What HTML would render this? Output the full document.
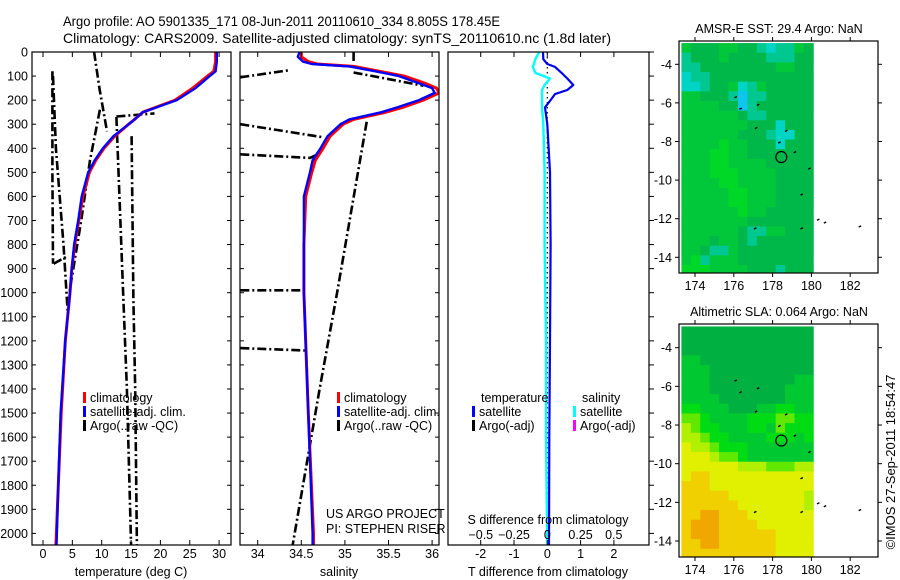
<!DOCTYPE html>
<html><head><meta charset="utf-8"><title>Argo profile</title>
<style>
html,body{margin:0;padding:0;background:#fff;}
svg{display:block;font-family:"Liberation Sans",sans-serif;}
text{fill:#000;}
</style></head>
<body>
<svg id="fig" width="900" height="580" viewBox="0 0 900 580" xmlns="http://www.w3.org/2000/svg">
<text x="63" y="26" font-size="14" textLength="437" lengthAdjust="spacingAndGlyphs">Argo profile: AO 5901335_171 08-Jun-2011 20110610_334 8.805S 178.45E</text>
<text x="63" y="43" font-size="14" textLength="548" lengthAdjust="spacingAndGlyphs">Climatology: CARS2009. Satellite-adjusted climatology: synTS_20110610.nc (1.8d later)</text>
<g id="g1"></g>
<g id="g2"></g>
<g id="g3"></g>
<g id="m1"></g>
<g id="m2"></g>
<text transform="translate(895,462) rotate(-90)" font-size="13" text-anchor="middle">©IMOS 27-Sep-2011 18:54:47</text>
</svg>
<script>
// ---- profile data ----
const depthTicks = [0,100,200,300,400,500,600,700,800,900,1000,1100,1200,1300,1400,1500,1600,1700,1800,1900,2000];
const tempTicks = [0,5,10,15,20,25,30];
const salTicks = [34,34.5,35,35.5,36];
const tdiffTicks = [-2,-1,0,1,2];
const sdiffTicks = [-0.5,-0.25,0,0.25,0.5];

const climDepth = [0,40,80,100,150,200,250,280,300,350,400,450,500,600,700,800,900,1000,1200,1500,1800,2050];
const tempSat   = [29.6,29.6,29.4,28.4,26.0,22.8,17.0,15.6,14.6,12.0,10.2,8.8,7.7,6.6,6.0,5.3,4.9,4.6,3.8,3.0,2.6,2.3];
const tempClim  = [29.4,29.4,29.1,28.0,25.5,22.5,17.0,15.6,14.6,12.2,10.4,9.0,7.9,6.8,6.1,5.4,4.9,4.6,3.8,3.1,2.6,2.2];
const salDepth  = [0,20,40,50,60,80,100,130,150,170,200,230,250,280,300,350,400,450,500,600,800,1000,1500,2000,2050];
const salSat    = [34.48,34.46,34.52,34.62,35.05,35.35,35.62,35.85,36.0,36.03,35.85,35.6,35.42,35.05,34.95,34.8,34.72,34.63,34.6,34.53,34.53,34.53,34.58,34.63,34.63];
const salClim   = [34.50,34.50,34.58,34.68,35.10,35.40,35.68,35.92,36.05,36.08,35.90,35.66,35.47,35.10,34.98,34.83,34.75,34.66,34.62,34.55,34.53,34.53,34.58,34.64,34.64];

// Argo (raw, -QC) segments: [values..], [depths..]
const argoT = [
  [[1.6,1.6,1.7],[80,500,880]],
  [[1.7,2.2,3.5,4.0,4.2],[100,400,800,1000,1080]],
  [[8.7,9.6,10.9],[0,150,330]],
  [[9.7,8.0,6.5,4.5],[240,450,700,1000]],
  [[12.5,13.7,14.3,15.0],[270,1030,1400,2050]],
  [[15.1,15.4,15.7,16.0],[350,1030,1400,2050]],
  [[12.5,19.0],[268,255]],
  [[1.8,4.0],[880,850]]
];
const argoS = [
  [[33.8,34.37],[105,75]],
  [[35.1,35.1],[0,40]],
  [[35.1,35.9],[85,140]],
  [[33.8,34.76],[300,355]],
  [[33.8,34.6,34.72],[425,440,420]],
  [[35.25,34.91,34.71,34.4],[290,1000,1400,2050]],
  [[33.8,34.5],[990,990]],
  [[33.8,34.55],[1230,1240]]
];
const diffDepth = [0,30,50,62,87,110,137,158,175,200,230,300,500,800,1200,1600,2050];
const tDiff     = [-0.13,-0.12,0.0,0.23,0.43,0.6,0.78,0.6,0.23,0.1,-0.07,0.0,0.08,0.1,0.08,0.06,0.05];
const sDiff     = [-0.06,-0.09,-0.10,-0.11,-0.09,0.02,-0.02,-0.04,-0.04,-0.04,-0.04,-0.03,-0.02,-0.02,-0.01,-0.01,0.0];

// ---- map data (0.5 deg rows from -2.9 southward, cols from 173.3 eastward) ----
const sstRows = ["10001100343310","30001000033300","33000000001100","43300000000000","44300143100000","11000353300000","11110053000000","11111103300000","11111110004000","11111100034400","11112110004000","11122110000000","11122111100000","11122211110000","11112211110000","11111221110000","11111221110000","11111121100000","11111110000000","11111103311000","11101103000000","11033100000000","12311100000000","22211110003000"];
const slaRows = ["00000000000000","00000000000000","00000000000000","11000000000000","11100000000000","11100000000011","11100000000111","11110000000111","22111000112211","33211112223322","43221112213222","44322111122212","54432221111111","55543321111111","55555544433344","56655555555555","66655555555555","66666555555554","66666655555554","66776665555555","67776666555555","67776666665555","66776666665555","66666666665555"];
const sstColors = ["#00b84a","#00c83a","#00d828","#00c890","#00d4c4","#10c4f0"];
const slaColors = ["#00b040","#00c830","#00dc14","#60e800","#b0f000","#e0f000","#f0d000","#f0a800"];
const coastLon = [176.1,176.35,177.25,177.15,178.35,178.7,179.15,179.9,179.5,180.35,180.7,182.5,177.1,179.5];
const coastLat = [-5.7,-6.3,-6.1,-7.3,-8.05,-7.45,-8.55,-9.4,-10.75,-12.05,-12.2,-12.4,-12.5,-12.5];
const floatLon = [178.45];
const floatLat = [-8.805];

// ---- helpers ----
const NS = "http://www.w3.org/2000/svg";
function mk(parent, tag, attrs, txt){
  const e = document.createElementNS(NS, tag);
  for (const k in attrs) e.setAttribute(k, attrs[k]);
  if (txt !== undefined) e.textContent = txt;
  parent.appendChild(e);
  return e;
}
const dy = d => 52 + d * 0.2407;
const tx = t => 43 + t * 5.87;
const sx = s => 257.7 + (s - 34) * 87.2;
const dtx = v => 547.3 + v * 33.3;
const dsx = v => 547.3 + v * 133;
const TOP = 52, BOT = 545;

function frame(g, x0, x1, name){
  const r = mk(g, 'rect', {x:x0, y:TOP, width:x1-x0, height:BOT-TOP, fill:'none', stroke:'#000', 'stroke-width':1.2});
  
  
}
function depthTicksDraw(g, x0, x1, labels, outsideRight){
  depthTicks.forEach(d => {
    const y = dy(d);
    if (outsideRight) { mk(g,'line',{x1:x1,y1:y,x2:x1+5,y2:y,stroke:'#000'}); return; }
    mk(g,'line',{x1:x0,y1:y,x2:x0+4,y2:y,stroke:'#000'});
    mk(g,'line',{x1:x1,y1:y,x2:x1-4,y2:y,stroke:'#000'});
    if (labels) {
      const t = mk(g,'text',{x:28,y:y+4.5,'font-size':12.5,'text-anchor':'end'}, String(d));
      
      
    }
  });
}
function xTicks(g, ticks, fx, y, fmt){
  ticks.forEach(v => {
    const x = fx(v);
    mk(g,'line',{x1:x,y1:TOP,x2:x,y2:TOP+5,stroke:'#000'});
    mk(g,'line',{x1:x,y1:BOT,x2:x,y2:BOT-5,stroke:'#000'});
    const t = mk(g,'text',{x:x,y:y,'font-size':12.5,'text-anchor':'middle'}, fmt ? fmt(v) : String(v));
    
    
  });
}
function pline(g, xs, ds, fx, attrs, name){
  const pts = xs.map((v,i) => fx(v).toFixed(1) + ',' + dy(ds[i]).toFixed(1)).join(' ');
  const p = mk(g,'polyline', Object.assign({points:pts, fill:'none', 'stroke-linejoin':'round'}, attrs));
  
  
  return p;
}
function clip(g, id, x0, x1){
  const c = mk(g,'clipPath',{id:id});
  mk(c,'rect',{x:x0,y:TOP,width:x1-x0,height:BOT-TOP});
  return mk(g,'g',{'clip-path':'url(#'+id+')'});
}
function legendEntry(g, x, y, color, label){
  const m = mk(g,'rect',{x:x,y:y-10,width:3,height:11,fill:color});
  
  
  const t = mk(g,'text',{x:x+7,y:y,'font-size':12.5}, label);
  
  
}
const argoStyle = {stroke:'#000','stroke-width':2.6,'stroke-dasharray':'9,3,2,3'};

// ---- panel 1: temperature ----
const g1 = document.getElementById('g1');
const c1 = clip(g1,'cp1',32,231);
argoT.forEach(s => pline(c1, s[0], s[1], tx, argoStyle, 'argo-temperature-line'));
pline(c1, tempClim, climDepth, tx, {stroke:'#f00','stroke-width':3}, 'temperature-climatology-line');
pline(c1, tempSat, climDepth, tx, {stroke:'#0000ff','stroke-width':2.4}, 'temperature-satellite-line');
frame(g1,32,231,'temperature-axes-frame');
depthTicksDraw(g1,32,231,true);
xTicks(g1,tempTicks,tx,558);
mk(g1,'text',{x:131,y:576,'font-size':12.5,'text-anchor':'middle',},'temperature (deg C)');
legendEntry(g1,83,402,'#f00','climatology');
legendEntry(g1,83,416,'#00f','satellite-adj. clim.');
legendEntry(g1,83,430,'#000','Argo(..raw -QC)');

// ---- panel 2: salinity ----
const g2 = document.getElementById('g2');
const c2 = clip(g2,'cp2',240,439);
argoS.forEach(s => pline(c2, s[0], s[1], sx, argoStyle, 'argo-salinity-line'));
pline(c2, salClim, salDepth, sx, {stroke:'#f00','stroke-width':3}, 'salinity-climatology-line');
pline(c2, salSat, salDepth, sx, {stroke:'#0000ff','stroke-width':2.4}, 'salinity-satellite-line');
frame(g2,240,439,'salinity-axes-frame');
depthTicksDraw(g2,240,439,false);
xTicks(g2,salTicks,sx,558);
mk(g2,'text',{x:339,y:576,'font-size':12.5,'text-anchor':'middle',},'salinity');
legendEntry(g2,337,402,'#f00','climatology');
legendEntry(g2,337,416,'#00f','satellite-adj. clim.');
legendEntry(g2,337,430,'#000','Argo(..raw -QC)');
mk(g2,'text',{x:326,y:518,'font-size':12.5,},'US ARGO PROJECT');
mk(g2,'text',{x:326,y:533,'font-size':12.5,},'PI: STEPHEN RISER');

// ---- panel 3: differences ----
const g3 = document.getElementById('g3');
const c3 = clip(g3,'cp3',448,649);
mk(c3,'line',{x1:dtx(0),y1:TOP,x2:dtx(0),y2:BOT,stroke:'#000','stroke-width':1.2,'stroke-dasharray':'1.5,3.5',});
pline(c3, sDiff, diffDepth, dsx, {stroke:'#00ffff','stroke-width':2.4}, 'salinity-difference-line');
pline(c3, tDiff, diffDepth, dtx, {stroke:'#0000ee','stroke-width':2.2}, 'temperature-difference-line');
frame(g3,448,649,'difference-axes-frame');
depthTicksDraw(g3,448,649,false,true);
xTicks(g3,tdiffTicks,dtx,558);
sdiffTicks.forEach(v => {
  const t = mk(g3,'text',{x:dsx(v),y:539,'font-size':12.5,'text-anchor':'middle'}, String(v).replace('-','\u2212'));
  
  
});
mk(g3,'text',{x:548,y:524,'font-size':12.5,'text-anchor':'middle',},'S difference from climatology');
mk(g3,'text',{x:548,y:576,'font-size':12.5,'text-anchor':'middle',},'T difference from climatology');
mk(g3,'text',{x:481,y:402,'font-size':12.5,},'temperature');
mk(g3,'text',{x:582,y:402,'font-size':12.5,},'salinity');
legendEntry(g3,472,416,'#00f','satellite');
legendEntry(g3,472,430,'#000','Argo(-adj)');
legendEntry(g3,573,416,'#00ffff','satellite');
legendEntry(g3,573,430,'#ff00ff','Argo(-adj)');

// ---- maps ----
const lonTicks = [174,176,178,180,182];
const latTicks = [-4,-6,-8,-10,-12,-14];
function drawMap(gid, rows, colors, boxTop, boxBot, lat4y, lat14y, title, titleY){
  const g = document.getElementById(gid);
  const lx = lon => 695 + (lon - 174) * 19.4;
  const ly = lat => lat4y + (lat + 4) * (lat4y - lat14y) / 10;
  const lon0 = 173.3, dLon = 6.8 / 14, lat0 = -2.9, dLat = 0.5;
  rows.forEach((row, r) => {
    for (let c = 0; c < row.length; c++) {
      const x0 = lx(lon0 + c * dLon), x1 = lx(lon0 + (c + 1) * dLon);
      const y0 = ly(lat0 - r * dLat), y1 = ly(lat0 - (r + 1) * dLat);
      const cell = mk(g,'rect',{x:x0.toFixed(2),y:Math.max(y0,boxTop).toFixed(2),width:(x1-x0+0.4).toFixed(2),height:(Math.min(y1,boxBot)-Math.max(y0,boxTop)+0.4).toFixed(2),fill:colors[+row[c]]});
      
      
    }
  });
  coastLon.forEach((lon, i) => {
    const m = mk(g,'line',{x1:lx(lon)-1.2,y1:ly(coastLat[i])+0.6,x2:lx(lon)+1.2,y2:ly(coastLat[i])-0.6,stroke:'#000','stroke-width':1.4});
    
    
  });
  floatLon.forEach((lon, i) => {
    const c = mk(g,'circle',{cx:lx(lon),cy:ly(floatLat[i]),r:5.5,fill:'none',stroke:'#000','stroke-width':1.2});
    
    
  });
  const f = mk(g,'rect',{x:679,y:boxTop,width:199,height:boxBot-boxTop,fill:'none',stroke:'#000','stroke-width':1.2});
  
  
  lonTicks.forEach(lon => {
    const x = lx(lon);
    mk(g,'line',{x1:x,y1:boxBot,x2:x,y2:boxBot+4,stroke:'#000'});
    mk(g,'line',{x1:x,y1:boxTop,x2:x,y2:boxTop-4,stroke:'#000'});
    const t = mk(g,'text',{x:x,y:boxBot+17,'font-size':12.5,'text-anchor':'middle'}, String(lon));
    
    
  });
  latTicks.forEach(lat => {
    const y = ly(lat);
    mk(g,'line',{x1:679,y1:y,x2:675,y2:y,stroke:'#000'});
    mk(g,'line',{x1:878,y1:y,x2:882,y2:y,stroke:'#000'});
    const t = mk(g,'text',{x:672,y:y+4.5,'font-size':12.5,'text-anchor':'end'}, String(lat).replace('-','-'));
    
    
  });
  const tt = mk(g,'text',{x:779,y:titleY,'font-size':12.5,'text-anchor':'middle'}, title);
  
  
}
drawMap('m1', sstRows, sstColors, 41, 273, 64.3, 257.3, 'AMSR-E SST: 29.4 Argo: NaN', 33);
drawMap('m2', slaRows, slaColors, 324, 557, 347.7, 541, 'Altimetric SLA: 0.064 Argo: NaN', 316);
</script>
</body></html>
